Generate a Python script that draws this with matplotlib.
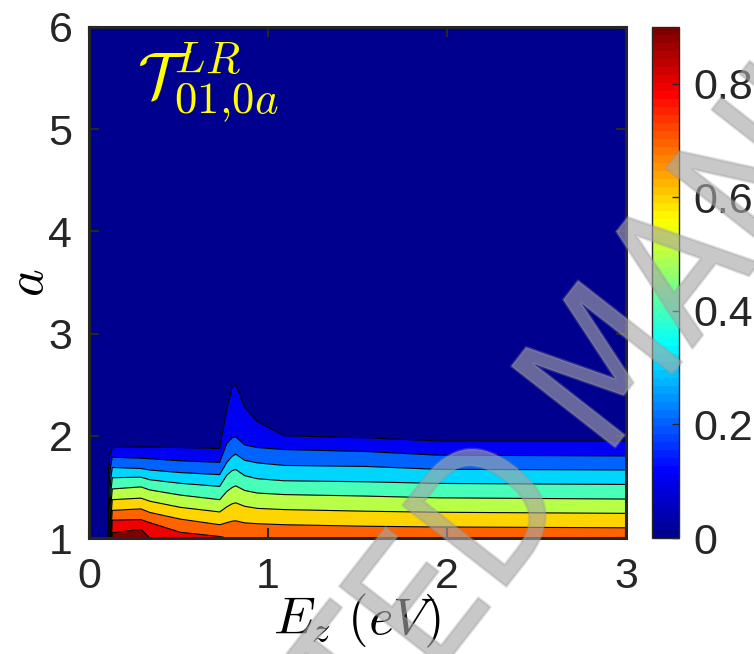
"""Transmission contour T^LR_{01,0a} versus field energy E_z and width a."""

import matplotlib

matplotlib.use("Agg")
import matplotlib.pyplot as plt
import numpy as np
import matplotlib.patheffects as pe
from matplotlib.cm import ScalarMappable
from matplotlib.colors import LinearSegmentedColormap, Normalize

plt.rcParams["font.family"] = ["Liberation Sans", "DejaVu Sans"]
plt.rcParams["mathtext.fontset"] = "cm"

# E_z columns (eV) where the level curves were read, plus the empty strip at the left
E_EMPTY = [0.0, 0.10]
E_COLS = [0.13, 0.29, 0.34, 0.51, 0.73, 0.77, 0.80, 0.82, 0.87, 0.94, 1.09, 1.55, 1.95, 3.0]

# a-position of each contour level along E_COLS (1.0 = touches the bottom edge)
A_01 = [1.885, 1.89, 1.89, 1.885, 1.875, 2.26, 2.47, 2.50, 2.28, 2.14, 2.00, 1.98, 1.95, 1.95]
A_02 = [1.79, 1.78, 1.775, 1.755, 1.74, 1.925, 1.98, 1.99, 1.91, 1.885, 1.865, 1.846, 1.81, 1.803]
A_03 = [1.69, 1.68, 1.665, 1.64, 1.62, 1.74, 1.80, 1.82, 1.76, 1.735, 1.71, 1.70, 1.672, 1.666]
A_04 = [1.59, 1.595, 1.57, 1.535, 1.505, 1.615, 1.66, 1.67, 1.61, 1.58, 1.56, 1.55, 1.534, 1.524]
A_05 = [1.48, 1.50, 1.47, 1.42, 1.375, 1.455, 1.495, 1.51, 1.465, 1.44, 1.425, 1.41, 1.393, 1.381]
A_06 = [1.375, 1.39, 1.36, 1.30, 1.255, 1.305, 1.335, 1.344, 1.31, 1.29, 1.278, 1.262, 1.252, 1.241]
A_07 = [1.27, 1.285, 1.25, 1.185, 1.13, 1.15, 1.165, 1.168, 1.148, 1.14, 1.13, 1.115, 1.108, 1.10]
A_08 = [1.175, 1.18, 1.15, 1.056, 1.015, 1.0, 1.0, 1.0, 1.0, 1.0, 1.0, 1.0, 1.0, 1.0]
A_09 = [1.05, 1.085, 1.0, 1.0, 1.0, 1.0, 1.0, 1.0, 1.0, 1.0, 1.0, 1.0, 1.0, 1.0]
BOTTOM_T = [0.93, 0.93, 0.9, 0.9, 0.9, 0.9, 0.9, 0.9, 0.9, 0.9, 0.9, 0.9, 0.9, 0.9]

LEVELS = [0.1, 0.2, 0.3, 0.4, 0.5, 0.6, 0.7, 0.8, 0.9]
T_MAX = 0.9
A_RANGE = (1, 6)
E_RANGE = (0, 3)
X_TICKS = [0, 1, 2, 3]
Y_TICKS = [1, 2, 3, 4, 5, 6]
CBAR_TICKS = [0, 0.2, 0.4, 0.6, 0.8]
CBAR_LABELS = ["0", "0.2", "0.4", "0.6", "0.8"]

INK = "#262626"

# MATLAB-style jet, 64 colours
_jet = LinearSegmentedColormap(
    "mjet",
    {
        "red": [(0, 0, 0), (0.375, 0, 0), (0.625, 1, 1), (0.875, 1, 1), (1, 0.5, 0.5)],
        "green": [(0, 0, 0), (0.125, 0, 0), (0.375, 1, 1), (0.625, 1, 1), (0.875, 0, 0), (1, 0, 0)],
        "blue": [(0, 0.5625, 0.5625), (0.125, 1, 1), (0.375, 1, 1), (0.625, 0, 0), (1, 0, 0)],
    },
    N=64,
)


def build_grid():
    # rows: bottom edge, level 0.9 ... level 0.1, top edge
    curves = [A_09, A_08, A_07, A_06, A_05, A_04, A_03, A_02, A_01]
    ncol = len(E_COLS)
    y = np.vstack([np.full(ncol, A_RANGE[0])] + [np.asarray(c) for c in curves] + [np.full(ncol, A_RANGE[1])])
    z = np.vstack([np.asarray(BOTTOM_T)] + [np.full(ncol, lv) for lv in LEVELS[::-1]] + [np.zeros(ncol)])
    nrow = y.shape[0]
    y = np.hstack([np.repeat(y[:, :1], len(E_EMPTY), axis=1), y])
    z = np.hstack([np.zeros((nrow, len(E_EMPTY))), z])
    x = np.tile(np.asarray(E_EMPTY + E_COLS, dtype=float), (nrow, 1))
    return x, y, z


def main():
    fig = plt.figure(figsize=(7.54, 6.54), dpi=100)
    ax = fig.add_axes([89 / 754, 1 - 538 / 654, (626 - 89) / 754, (538 - 27) / 654])
    cax = fig.add_axes([652 / 754, 1 - 538 / 654, (679 - 652) / 754, (538 - 27) / 654])

    x, y, z = build_grid()
    bounds = [0.0] + LEVELS + [1.0]
    band_colors = [_jet(min(b / T_MAX, 1.0)) for b in bounds[:-1]]
    ax.contourf(x, y, z, levels=bounds, colors=band_colors, antialiased=True)
    ax.contour(x, y, z, levels=LEVELS, colors="k", linewidths=0.8)

    ax.set_xlim(*E_RANGE)
    ax.set_ylim(*A_RANGE)
    ax.set_xticks(X_TICKS)
    ax.set_yticks(Y_TICKS)
    ax.tick_params(direction="in", length=7, width=1.5, top=True, right=True,
                   labelsize=31, colors=INK)
    ax.tick_params(axis="x", pad=14)
    ax.tick_params(axis="y", pad=12)
    for sp in ax.spines.values():
        sp.set_linewidth(2.2)
        sp.set_color(INK)

    ax.set_xlabel(r"$E_z\ (eV)$", fontsize=38, labelpad=-4, color="k")
    ax.set_ylabel(r"$a$", fontsize=38, labelpad=-4, color="k")

    ax.text(0.27, 5.45, r"$\mathcal{T}^{LR}_{01{,}0a}$", color="#ffff00",
            fontsize=46, va="center", ha="left")

    sm = ScalarMappable(norm=Normalize(0, T_MAX), cmap=_jet)
    cb = fig.colorbar(sm, cax=cax, ticks=CBAR_TICKS)
    cb.ax.set_yticklabels(CBAR_LABELS)
    cb.ax.tick_params(direction="in", length=5, width=1, labelsize=31, colors=INK, pad=10)
    cb.outline.set_linewidth(1.0)
    cb.outline.set_edgecolor(INK)

    # faint diagonal watermark across the lower right
    fig.text(652 / 754, 1 - 400 / 654, "ACCEPTED MANUSCRIPT", rotation=52,
             rotation_mode="anchor", ha="center", va="baseline", fontsize=130,
             family=["Liberation Sans Narrow", "DejaVu Sans"], fontstretch="condensed",
             color="#a8a8a8", alpha=0.45, zorder=10,
             path_effects=[pe.withStroke(linewidth=2.0, foreground="#909090", alpha=0.3)])

    fig.savefig("out.png", dpi=100)
    plt.close(fig)


if __name__ == "__main__":
    main()
